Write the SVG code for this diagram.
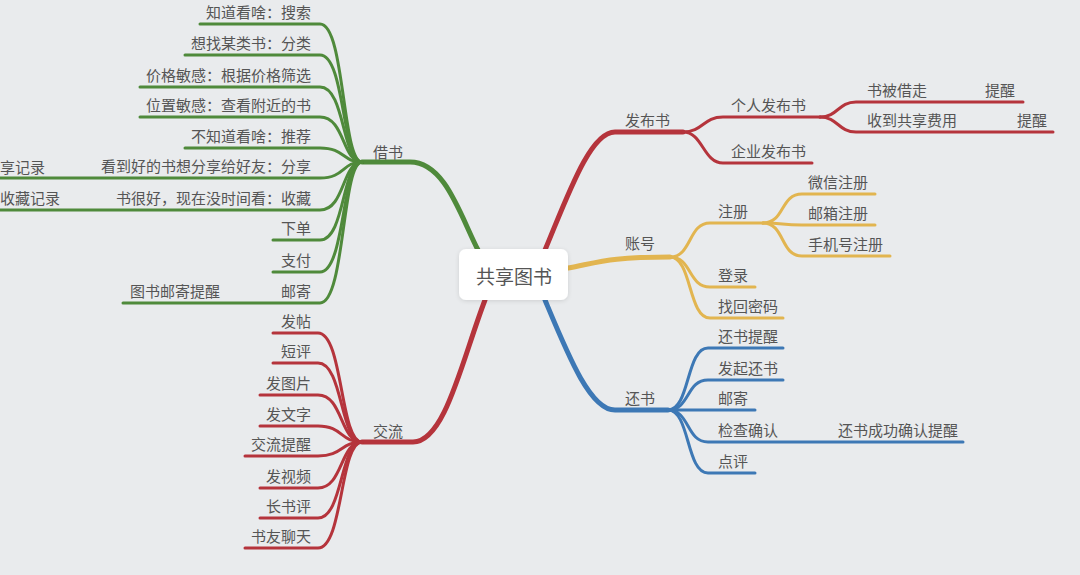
<svg xmlns="http://www.w3.org/2000/svg" width="1080" height="575" viewBox="0 0 1080 575">
<style>
.t{font-family:"Noto Sans CJK SC","Noto Sans",sans-serif;font-size:15px;fill:#555}
.e{text-anchor:end}
.c{fill:none;stroke-linecap:round;stroke-linejoin:round}
.g{stroke:#4f8a3b}
.r{stroke:#b5343c}
.y{stroke:#e2b550}
.b{stroke:#3d78b5}
.s{stroke-width:3}
.m{stroke-width:5}
</style>
<defs>
<filter id="sh" x="-20%" y="-20%" width="140%" height="140%"><feDropShadow dx="0" dy="1" stdDeviation="2" flood-color="#000" flood-opacity="0.12"/></filter>
</defs>
<rect width="1080" height="575" fill="#e9ebed"/>
<g id="connectors">
<path class="c g m" d="M362 162 H410 C445 162 460 215 478 250"/>
<path class="c r m" d="M362 442 H413 C445 442 462 360 485 300"/>
<path class="c r m" d="M545 250 C568 195 590 132 615 132 H683"/>
<path class="c y m" d="M568 268 C600 262 610 257 670 257"/>
<path class="c b m" d="M545 300 C568 355 590 410 615 410 H668"/>
<g class="c g s">
<path d="M200 24 H320 C345 24 342 162 362 162"/>
<path d="M185 55 H320 C345 55 342 162 362 162"/>
<path d="M140 87 H320 C345 87 342 162 362 162"/>
<path d="M140 117 H320 C345 117 342 162 362 162"/>
<path d="M185 148 H320 C345 148 342 162 362 162"/>
<path d="M-5 178 H320 C345 178 342 162 362 162"/>
<path d="M-5 210 H320 C345 210 342 162 362 162"/>
<path d="M273 240 H320 C345 240 342 162 362 162"/>
<path d="M273 272 H320 C345 272 342 162 362 162"/>
<path d="M123 303 H320 C345 303 342 162 362 162"/>
</g>
<g class="c r s">
<path d="M273 333 H318 C343 333 340 442 362 442"/>
<path d="M273 363 H318 C343 363 340 442 362 442"/>
<path d="M260 395 H318 C343 395 340 442 362 442"/>
<path d="M260 426 H318 C343 426 340 442 362 442"/>
<path d="M245 456 H318 C343 456 340 442 362 442"/>
<path d="M260 488 H318 C343 488 340 442 362 442"/>
<path d="M260 518 H318 C343 518 340 442 362 442"/>
<path d="M245 548 H318 C343 548 340 442 362 442"/>
<path d="M683 132 C703 132 703 117 723 117 H820"/>
<path d="M683 132 C703 132 703 163 723 163 H812"/>
<path d="M820 117 C838 117 838 102 856 102 H1023"/>
<path d="M820 117 C838 117 838 132 856 132 H1053"/>
</g>
<g class="c y s">
<path d="M670 257 C692 257 688 223 710 223 H763"/>
<path d="M670 257 C692 257 688 287 710 287 H755"/>
<path d="M670 257 C692 257 688 318 710 318 H783"/>
<path d="M763 223 C785 223 780 194 802 194 H875"/>
<path d="M763 223 C785 223 780 225 802 225 H875"/>
<path d="M763 223 C785 223 780 256 802 256 H890"/>
</g>
<g class="c b s">
<path d="M668 410 C690 410 686 348 708 348 H783"/>
<path d="M668 410 C690 410 686 380 708 380 H783"/>
<path d="M668 410 C690 410 686 410 708 410 H755"/>
<path d="M668 410 C690 410 686 442 708 442 H963"/>
<path d="M668 410 C690 410 686 473 708 473 H755"/>
</g>
</g>
<g id="root">
<rect x="459" y="249" width="109" height="51" rx="7" fill="#fff" filter="url(#sh)"/>
<text x="514" y="284" class="t" style="font-size:19px;text-anchor:middle">共享图书</text>
</g>
<g id="borrow"><text class="t" x="373" y="158">借书</text></g>
<g id="b1"><text class="t e" x="311" y="18">知道看啥：搜索</text></g>
<g id="b2"><text class="t e" x="311" y="49">想找某类书：分类</text></g>
<g id="b3"><text class="t e" x="311" y="81">价格敏感：根据价格筛选</text></g>
<g id="b4"><text class="t e" x="311" y="111">位置敏感：查看附近的书</text></g>
<g id="b5"><text class="t e" x="311" y="142">不知道看啥：推荐</text></g>
<g id="b6"><text class="t e" x="311" y="172">看到好的书想分享给好友：分享</text></g>
<g id="b6a"><text class="t" x="0" y="173">享记录</text></g>
<g id="b7"><text class="t e" x="311" y="204">书很好，现在没时间看：收藏</text></g>
<g id="b7a"><text class="t" x="0" y="204">收藏记录</text></g>
<g id="b8"><text class="t e" x="311" y="234">下单</text></g>
<g id="b9"><text class="t e" x="311" y="266">支付</text></g>
<g id="b10"><text class="t e" x="311" y="297">邮寄</text></g>
<g id="b10a"><text class="t" x="130" y="297">图书邮寄提醒</text></g>
<g id="talk"><text class="t" x="373" y="437">交流</text></g>
<g id="c1"><text class="t e" x="311" y="327">发帖</text></g>
<g id="c2"><text class="t e" x="311" y="357">短评</text></g>
<g id="c3"><text class="t e" x="311" y="389">发图片</text></g>
<g id="c4"><text class="t e" x="311" y="420">发文字</text></g>
<g id="c5"><text class="t e" x="311" y="450">交流提醒</text></g>
<g id="c6"><text class="t e" x="311" y="482">发视频</text></g>
<g id="c7"><text class="t e" x="311" y="512">长书评</text></g>
<g id="c8"><text class="t e" x="311" y="542">书友聊天</text></g>
<g id="publish"><text class="t" x="625" y="126">发布书</text></g>
<g id="p1"><text class="t" x="731" y="111">个人发布书</text></g>
<g id="p2"><text class="t" x="731" y="157">企业发布书</text></g>
<g id="p11"><text class="t" x="867" y="96">书被借走</text></g>
<g id="p11a"><text class="t" x="985" y="96">提醒</text></g>
<g id="p12"><text class="t" x="867" y="126">收到共享费用</text></g>
<g id="p12a"><text class="t" x="1017" y="126">提醒</text></g>
<g id="account"><text class="t" x="625" y="249">账号</text></g>
<g id="a1"><text class="t" x="718" y="217">注册</text></g>
<g id="a11"><text class="t" x="808" y="188">微信注册</text></g>
<g id="a12"><text class="t" x="808" y="219">邮箱注册</text></g>
<g id="a13"><text class="t" x="808" y="250">手机号注册</text></g>
<g id="a2"><text class="t" x="718" y="281">登录</text></g>
<g id="a3"><text class="t" x="718" y="312">找回密码</text></g>
<g id="return"><text class="t" x="625" y="404">还书</text></g>
<g id="r1"><text class="t" x="718" y="342">还书提醒</text></g>
<g id="r2"><text class="t" x="718" y="374">发起还书</text></g>
<g id="r3"><text class="t" x="718" y="404">邮寄</text></g>
<g id="r4"><text class="t" x="718" y="436">检查确认</text></g>
<g id="r4a"><text class="t" x="838" y="436">还书成功确认提醒</text></g>
<g id="r5"><text class="t" x="718" y="467">点评</text></g>
</svg>
